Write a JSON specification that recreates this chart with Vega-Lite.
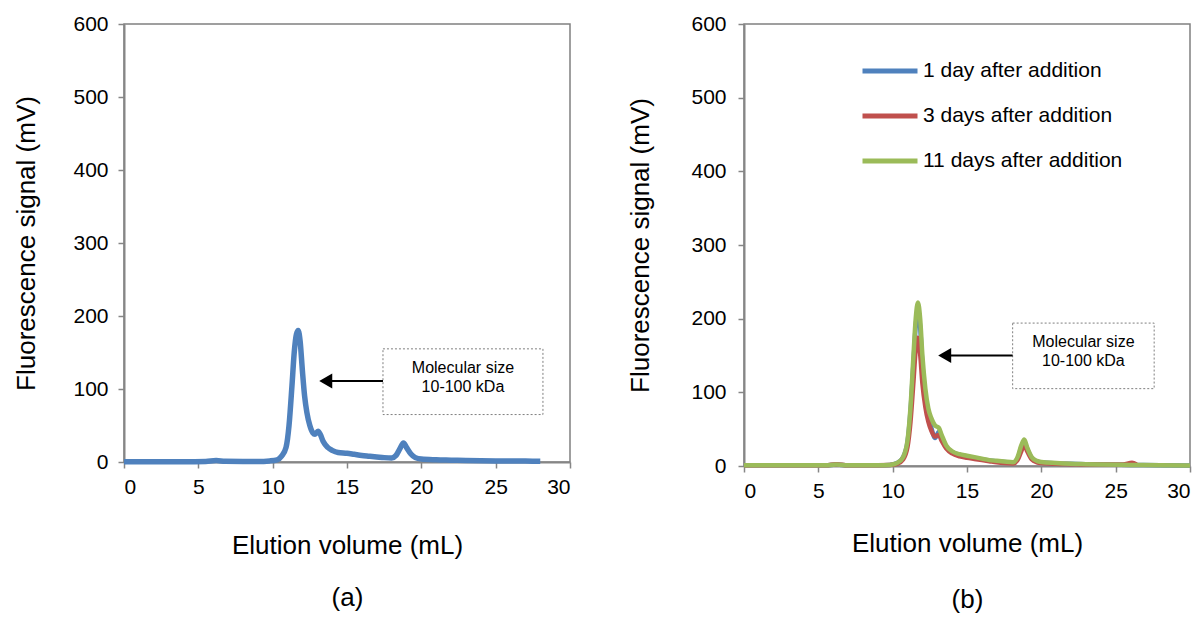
{
  "$schema": "https://vega.github.io/schema/vega-lite/v6.json",
  "background": "white",
  "padding": {"left": 13, "top": 12, "right": 0, "bottom": 0},
  "spacing": 55,
  "config": {
    "font": "Liberation Sans",
    "view": {"stroke": "#808080", "strokeWidth": 1.5},
    "axis": {
      "grid": false,
      "domainColor": "#868686",
      "domainWidth": 2,
      "tickColor": "#868686",
      "tickWidth": 1.5,
      "tickSize": 6,
      "labelFont": "Liberation Sans",
      "labelFontSize": 21,
      "labelColor": "#000000",
      "titleFont": "Liberation Sans",
      "titleFontSize": 26,
      "titleFontWeight": "normal",
      "titleColor": "#000000"
    },
    "legend": {
      "labelFont": "Liberation Sans",
      "labelFontSize": 21,
      "labelColor": "#000000",
      "labelLimit": 0
    }
  },
  "datasets": {
    "panelA": [
      {"x": 0, "y": 0.5}, {"x": 2, "y": 0.5}, {"x": 4, "y": 0.5}, {"x": 5.5, "y": 0.8},
      {"x": 6.2, "y": 2}, {"x": 6.8, "y": 1}, {"x": 8, "y": 0.8}, {"x": 9, "y": 0.8},
      {"x": 9.8, "y": 1.5}, {"x": 10.3, "y": 3}, {"x": 10.6, "y": 8}, {"x": 10.9, "y": 20},
      {"x": 11.1, "y": 50}, {"x": 11.3, "y": 105}, {"x": 11.45, "y": 150}, {"x": 11.6, "y": 175},
      {"x": 11.72, "y": 180}, {"x": 11.85, "y": 165}, {"x": 12.0, "y": 125}, {"x": 12.15, "y": 90},
      {"x": 12.3, "y": 68}, {"x": 12.5, "y": 50}, {"x": 12.7, "y": 40}, {"x": 12.85, "y": 38},
      {"x": 13.05, "y": 42}, {"x": 13.2, "y": 38}, {"x": 13.4, "y": 28}, {"x": 13.7, "y": 20},
      {"x": 14.0, "y": 16}, {"x": 14.4, "y": 13}, {"x": 15, "y": 12}, {"x": 15.5, "y": 10.5},
      {"x": 16, "y": 9}, {"x": 16.5, "y": 8}, {"x": 17, "y": 7}, {"x": 17.5, "y": 6},
      {"x": 18.0, "y": 5.5}, {"x": 18.3, "y": 9}, {"x": 18.55, "y": 18}, {"x": 18.8, "y": 26},
      {"x": 19.0, "y": 20}, {"x": 19.3, "y": 11}, {"x": 19.6, "y": 6}, {"x": 20, "y": 4},
      {"x": 21, "y": 3}, {"x": 22, "y": 2.5}, {"x": 23, "y": 2}, {"x": 25, "y": 1.5},
      {"x": 27, "y": 1.2}, {"x": 28, "y": 1}
    ],
    "panelB": [
      {"series": "1 day after addition", "x": 0, "y": 1}, {"series": "1 day after addition", "x": 5.5, "y": 1},
      {"series": "1 day after addition", "x": 6.2, "y": 2}, {"series": "1 day after addition", "x": 7, "y": 1},
      {"series": "1 day after addition", "x": 9, "y": 1}, {"series": "1 day after addition", "x": 9.8, "y": 1.5},
      {"series": "1 day after addition", "x": 10.3, "y": 4}, {"series": "1 day after addition", "x": 10.7, "y": 12},
      {"series": "1 day after addition", "x": 11, "y": 33}, {"series": "1 day after addition", "x": 11.2, "y": 75},
      {"series": "1 day after addition", "x": 11.4, "y": 140}, {"series": "1 day after addition", "x": 11.55, "y": 190},
      {"series": "1 day after addition", "x": 11.7, "y": 210}, {"series": "1 day after addition", "x": 11.85, "y": 188},
      {"series": "1 day after addition", "x": 12.0, "y": 138}, {"series": "1 day after addition", "x": 12.2, "y": 95},
      {"series": "1 day after addition", "x": 12.4, "y": 68}, {"series": "1 day after addition", "x": 12.6, "y": 52},
      {"series": "1 day after addition", "x": 12.85, "y": 38}, {"series": "1 day after addition", "x": 13.1, "y": 46},
      {"series": "1 day after addition", "x": 13.3, "y": 38}, {"series": "1 day after addition", "x": 13.6, "y": 26},
      {"series": "1 day after addition", "x": 14, "y": 19}, {"series": "1 day after addition", "x": 14.5, "y": 15},
      {"series": "1 day after addition", "x": 15, "y": 13}, {"series": "1 day after addition", "x": 15.5, "y": 11},
      {"series": "1 day after addition", "x": 16, "y": 9}, {"series": "1 day after addition", "x": 16.5, "y": 7.5},
      {"series": "1 day after addition", "x": 17, "y": 6.5}, {"series": "1 day after addition", "x": 17.5, "y": 5.5},
      {"series": "1 day after addition", "x": 18.1, "y": 4.5}, {"series": "1 day after addition", "x": 18.4, "y": 10},
      {"series": "1 day after addition", "x": 18.65, "y": 25}, {"series": "1 day after addition", "x": 18.85, "y": 33},
      {"series": "1 day after addition", "x": 19.05, "y": 23}, {"series": "1 day after addition", "x": 19.35, "y": 11},
      {"series": "1 day after addition", "x": 19.7, "y": 6}, {"series": "1 day after addition", "x": 20, "y": 5},
      {"series": "1 day after addition", "x": 21, "y": 3.5}, {"series": "1 day after addition", "x": 22, "y": 3},
      {"series": "1 day after addition", "x": 23, "y": 2.5}, {"series": "1 day after addition", "x": 24, "y": 2},
      {"series": "1 day after addition", "x": 26, "y": 1.5}, {"series": "1 day after addition", "x": 28, "y": 1},
      {"series": "1 day after addition", "x": 30, "y": 0.8},

      {"series": "3 days after addition", "x": 0, "y": 1}, {"series": "3 days after addition", "x": 5.5, "y": 1},
      {"series": "3 days after addition", "x": 6.2, "y": 2.5}, {"series": "3 days after addition", "x": 7, "y": 1},
      {"series": "3 days after addition", "x": 9, "y": 1}, {"series": "3 days after addition", "x": 9.8, "y": 1.2},
      {"series": "3 days after addition", "x": 10.3, "y": 3}, {"series": "3 days after addition", "x": 10.7, "y": 9},
      {"series": "3 days after addition", "x": 11, "y": 26}, {"series": "3 days after addition", "x": 11.2, "y": 60},
      {"series": "3 days after addition", "x": 11.4, "y": 115}, {"series": "3 days after addition", "x": 11.55, "y": 158},
      {"series": "3 days after addition", "x": 11.7, "y": 174}, {"series": "3 days after addition", "x": 11.85, "y": 152},
      {"series": "3 days after addition", "x": 12.0, "y": 112}, {"series": "3 days after addition", "x": 12.2, "y": 80},
      {"series": "3 days after addition", "x": 12.4, "y": 60}, {"series": "3 days after addition", "x": 12.6, "y": 48},
      {"series": "3 days after addition", "x": 12.85, "y": 40}, {"series": "3 days after addition", "x": 13.1, "y": 42},
      {"series": "3 days after addition", "x": 13.3, "y": 34}, {"series": "3 days after addition", "x": 13.6, "y": 24},
      {"series": "3 days after addition", "x": 14, "y": 17}, {"series": "3 days after addition", "x": 14.5, "y": 13},
      {"series": "3 days after addition", "x": 15, "y": 11}, {"series": "3 days after addition", "x": 15.5, "y": 9.5},
      {"series": "3 days after addition", "x": 16, "y": 8}, {"series": "3 days after addition", "x": 16.5, "y": 6.5},
      {"series": "3 days after addition", "x": 17, "y": 5}, {"series": "3 days after addition", "x": 17.5, "y": 4},
      {"series": "3 days after addition", "x": 18.1, "y": 3.5}, {"series": "3 days after addition", "x": 18.4, "y": 8},
      {"series": "3 days after addition", "x": 18.65, "y": 20}, {"series": "3 days after addition", "x": 18.85, "y": 29},
      {"series": "3 days after addition", "x": 19.05, "y": 20}, {"series": "3 days after addition", "x": 19.35, "y": 9},
      {"series": "3 days after addition", "x": 19.7, "y": 5}, {"series": "3 days after addition", "x": 20, "y": 4},
      {"series": "3 days after addition", "x": 21, "y": 3}, {"series": "3 days after addition", "x": 22, "y": 2.5},
      {"series": "3 days after addition", "x": 23, "y": 2}, {"series": "3 days after addition", "x": 24, "y": 2},
      {"series": "3 days after addition", "x": 25.5, "y": 2}, {"series": "3 days after addition", "x": 26.1, "y": 4.5},
      {"series": "3 days after addition", "x": 26.4, "y": 2},

      {"series": "11 days after addition", "x": 0, "y": 1}, {"series": "11 days after addition", "x": 5.5, "y": 1},
      {"series": "11 days after addition", "x": 6.2, "y": 2}, {"series": "11 days after addition", "x": 7, "y": 1},
      {"series": "11 days after addition", "x": 9, "y": 1}, {"series": "11 days after addition", "x": 9.8, "y": 1.5},
      {"series": "11 days after addition", "x": 10.3, "y": 4}, {"series": "11 days after addition", "x": 10.7, "y": 12},
      {"series": "11 days after addition", "x": 11, "y": 35}, {"series": "11 days after addition", "x": 11.2, "y": 80},
      {"series": "11 days after addition", "x": 11.4, "y": 150}, {"series": "11 days after addition", "x": 11.55, "y": 200},
      {"series": "11 days after addition", "x": 11.7, "y": 222}, {"series": "11 days after addition", "x": 11.85, "y": 200},
      {"series": "11 days after addition", "x": 12.0, "y": 150}, {"series": "11 days after addition", "x": 12.2, "y": 105},
      {"series": "11 days after addition", "x": 12.4, "y": 78}, {"series": "11 days after addition", "x": 12.6, "y": 65},
      {"series": "11 days after addition", "x": 12.85, "y": 55}, {"series": "11 days after addition", "x": 13.1, "y": 52},
      {"series": "11 days after addition", "x": 13.3, "y": 42}, {"series": "11 days after addition", "x": 13.6, "y": 28},
      {"series": "11 days after addition", "x": 14, "y": 20}, {"series": "11 days after addition", "x": 14.5, "y": 16},
      {"series": "11 days after addition", "x": 15, "y": 14}, {"series": "11 days after addition", "x": 15.5, "y": 12},
      {"series": "11 days after addition", "x": 16, "y": 10}, {"series": "11 days after addition", "x": 16.5, "y": 8},
      {"series": "11 days after addition", "x": 17, "y": 7}, {"series": "11 days after addition", "x": 17.5, "y": 6},
      {"series": "11 days after addition", "x": 18.1, "y": 5}, {"series": "11 days after addition", "x": 18.4, "y": 12},
      {"series": "11 days after addition", "x": 18.65, "y": 28}, {"series": "11 days after addition", "x": 18.85, "y": 36},
      {"series": "11 days after addition", "x": 19.05, "y": 25}, {"series": "11 days after addition", "x": 19.35, "y": 12},
      {"series": "11 days after addition", "x": 19.7, "y": 7}, {"series": "11 days after addition", "x": 20, "y": 5.5},
      {"series": "11 days after addition", "x": 21, "y": 4}, {"series": "11 days after addition", "x": 22, "y": 3},
      {"series": "11 days after addition", "x": 23, "y": 2.5}, {"series": "11 days after addition", "x": 24, "y": 2},
      {"series": "11 days after addition", "x": 26, "y": 1.5}, {"series": "11 days after addition", "x": 28, "y": 1},
      {"series": "11 days after addition", "x": 30, "y": 0.8}
    ],
    "boxA": [{"x1": 17.42, "x2": 28.18, "y1": 155, "y2": 65}],
    "boxB": [{"x1": 18.07, "x2": 27.59, "y1": 194, "y2": 105}],
    "arrowA": [{"x1": 13.9, "x2": 17.42, "y": 111, "head": 13.57}],
    "arrowB": [{"x1": 13.85, "x2": 18.07, "y": 150, "head": 13.5}],
    "labelA": [{"x": 22.8, "y": 129, "t": "Molecular size"}, {"x": 22.8, "y": 103, "t": "10-100 kDa"}],
    "labelB": [{"x": 22.83, "y": 168, "t": "Molecular size"}, {"x": 22.83, "y": 142, "t": "10-100 kDa"}]
  },
  "hconcat": [
    {
      "width": 446,
      "height": 438,
      "layer": [
        {
          "data": {"name": "panelA"},
          "mark": {"type": "line", "color": "#4F81BD", "strokeWidth": 5.5, "interpolate": "monotone"},
          "encoding": {
            "x": {"field": "x", "type": "quantitative",
                  "scale": {"domain": [0, 30], "nice": false},
                  "axis": {"values": [0, 5, 10, 15, 20, 25, 30], "labelPadding": 8,
                           "title": ["Elution volume (mL)", "(a)"], "titlePadding": 35, "titleLineHeight": 52}},
            "y": {"field": "y", "type": "quantitative",
                  "scale": {"domain": [0, 600], "nice": false},
                  "axis": {"values": [0, 100, 200, 300, 400, 500, 600], "labelPadding": 10,
                           "title": "Fluorescence signal (mV)", "titlePadding": 33}}
          }
        },
        {
          "data": {"name": "boxA"},
          "mark": {"type": "rect", "fill": "white", "stroke": "#7f7f7f", "strokeWidth": 1, "strokeDash": [2, 2]},
          "encoding": {
            "x": {"field": "x1", "type": "quantitative"},
            "x2": {"field": "x2"},
            "y": {"field": "y1", "type": "quantitative"},
            "y2": {"field": "y2"}
          }
        },
        {
          "data": {"name": "arrowA"},
          "mark": {"type": "rule", "color": "black", "strokeWidth": 2},
          "encoding": {
            "x": {"field": "x1", "type": "quantitative"},
            "x2": {"field": "x2"},
            "y": {"field": "y", "type": "quantitative"}
          }
        },
        {
          "data": {"name": "arrowA"},
          "mark": {"type": "point", "shape": "triangle-left", "filled": true, "color": "black", "size": 225, "opacity": 1},
          "encoding": {
            "x": {"field": "head", "type": "quantitative"},
            "y": {"field": "y", "type": "quantitative"}
          }
        },
        {
          "data": {"name": "labelA"},
          "mark": {"type": "text", "fontSize": 16, "font": "Liberation Sans", "color": "black", "align": "center", "baseline": "middle"},
          "encoding": {
            "x": {"field": "x", "type": "quantitative"},
            "y": {"field": "y", "type": "quantitative"},
            "text": {"field": "t"}
          }
        }
      ]
    },
    {
      "width": 446,
      "height": 442,
      "layer": [
        {
          "data": {"name": "panelB"},
          "mark": {"type": "line", "strokeWidth": 4.5, "interpolate": "monotone"},
          "encoding": {
            "x": {"field": "x", "type": "quantitative",
                  "scale": {"domain": [0, 30], "nice": false},
                  "axis": {"values": [0, 5, 10, 15, 20, 25, 30], "labelPadding": 8,
                           "title": ["Elution volume (mL)", "(b)"], "titlePadding": 29, "titleLineHeight": 56}},
            "y": {"field": "y", "type": "quantitative",
                  "scale": {"domain": [0, 600], "nice": false},
                  "axis": {"values": [0, 100, 200, 300, 400, 500, 600], "labelPadding": 12,
                           "title": "Fluorescence signal (mV)", "titlePadding": 37}},
            "color": {"field": "series", "type": "nominal",
                      "scale": {"domain": ["1 day after addition", "3 days after addition", "11 days after addition"],
                                "range": ["#4F81BD", "#C0504D", "#9BBB59"]},
                      "legend": {"title": null, "orient": "none", "legendX": 736, "legendY": 17,
                                 "symbolType": "stroke", "symbolSize": 3025, "symbolStrokeWidth": 5,
                                 "labelOffset": 3, "rowPadding": 5, "labelLimit": 0}}
          }
        },
        {
          "data": {"name": "boxB"},
          "mark": {"type": "rect", "fill": "white", "stroke": "#7f7f7f", "strokeWidth": 1, "strokeDash": [2, 2]},
          "encoding": {
            "x": {"field": "x1", "type": "quantitative"},
            "x2": {"field": "x2"},
            "y": {"field": "y1", "type": "quantitative"},
            "y2": {"field": "y2"}
          }
        },
        {
          "data": {"name": "arrowB"},
          "mark": {"type": "rule", "color": "black", "strokeWidth": 2},
          "encoding": {
            "x": {"field": "x1", "type": "quantitative"},
            "x2": {"field": "x2"},
            "y": {"field": "y", "type": "quantitative"}
          }
        },
        {
          "data": {"name": "arrowB"},
          "mark": {"type": "point", "shape": "triangle-left", "filled": true, "color": "black", "size": 225, "opacity": 1},
          "encoding": {
            "x": {"field": "head", "type": "quantitative"},
            "y": {"field": "y", "type": "quantitative"}
          }
        },
        {
          "data": {"name": "labelB"},
          "mark": {"type": "text", "fontSize": 16, "font": "Liberation Sans", "color": "black", "align": "center", "baseline": "middle"},
          "encoding": {
            "x": {"field": "x", "type": "quantitative"},
            "y": {"field": "y", "type": "quantitative"},
            "text": {"field": "t"}
          }
        }
      ]
    }
  ]
}
